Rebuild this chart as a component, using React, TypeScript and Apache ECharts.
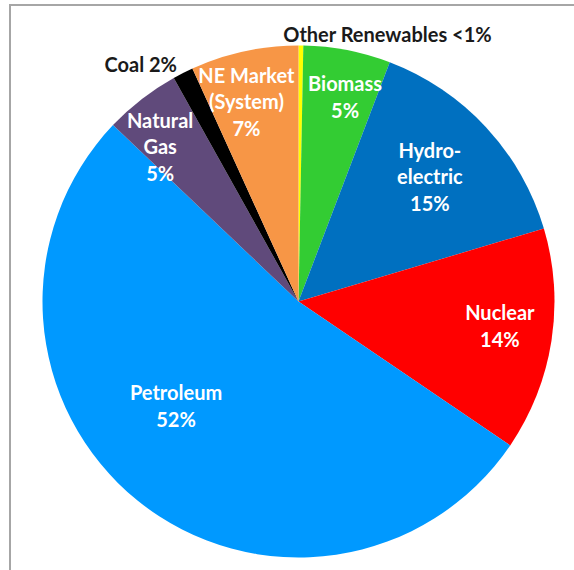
import React, { useEffect, useRef } from "react";
import * as echarts from "echarts";

// Data (share of total, clockwise from 12 o'clock)
const sources = [
  "Other Renewables",
  "Biomass",
  "Hydro-\nelectric",
  "Nuclear",
  "Petroleum",
  "Natural\nGas",
  "Coal",
  "NE Market\n(System)",
];
const shares = [0.3, 5.5, 14.6, 14.1, 52.6, 4.8, 1.3, 6.8];
const shareLabels = ["<1%", "5%", "15%", "14%", "52%", "5%", "2%", "7%"];

// Styling
const colors = ["#FFFF00", "#33CC33", "#0070C0", "#FF0000", "#0099FF", "#604A7B", "#000000", "#F79646"];
const outsideLabel = [true, false, false, false, false, false, true, false];
const labelNudge: [number, number][] = [
  [87, -60],
  [7, -1],
  [-21, 16],
  [-4, -8],
  [8, -58],
  [-11, 9],
  [-64, -52],
  [-8, 3],
];

const CX = 298.5;
const CY = 301.5;
const R = 256;

export default function App() {
  const ref = useRef<HTMLDivElement>(null);
  useEffect(() => {
    if (!ref.current) return;
    const chart = echarts.init(ref.current, undefined, { renderer: "svg" });
    const data = sources.map((name, i) => ({
      name,
      value: shares[i],
      itemStyle: { color: colors[i] },
    }));
    const labelData = sources.map((name, i) => ({
      name,
      value: shares[i],
      itemStyle: { color: "rgba(0,0,0,0)" },
      label: {
        formatter: outsideLabel[i]
          ? `${name.replace(/\n/g, " ")} ${shareLabels[i]}`
          : `${name}\n${shareLabels[i]}`,
        color: outsideLabel[i] ? "#1a1a1a" : "#ffffff",
      },
    }));
    chart.setOption({
      animation: false,
      backgroundColor: "#ffffff",
      graphic: [
        {
          type: "rect",
          shape: { x: 10, y: 5, width: 700, height: 700 },
          style: { fill: "none", stroke: "#a6a6a6", lineWidth: 2 },
          silent: true,
          z: 0,
        },
      ],
      series: [
        {
          type: "pie",
          center: [CX, CY],
          radius: [0, R],
          startAngle: 90,
          clockwise: true,
          silent: true,
          label: { show: false },
          labelLine: { show: false },
          data,
        },
        {
          type: "pie",
          center: [CX, CY],
          radius: [R * 0.6, R],
          startAngle: 90,
          clockwise: true,
          silent: true,
          z: 5,
          label: {
            show: true,
            position: "inside",
            rotate: 0,
            fontFamily: "Lato",
            fontWeight: "bold",
            fontSize: 20,
            lineHeight: 26.5,
            align: "center",
            textBorderWidth: 0,
          },
          labelLine: { show: false },
          labelLayout: (p: any) => ({
            dx: labelNudge[p.dataIndex][0],
            dy: labelNudge[p.dataIndex][1],
          }),
          data: labelData,
        },
      ],
    });
    return () => chart.dispose();
  }, []);
  return (
    <div
      ref={ref}
      style={{ position: "fixed", left: 0, top: 0, width: 574, height: 570 }}
    />
  );
}
